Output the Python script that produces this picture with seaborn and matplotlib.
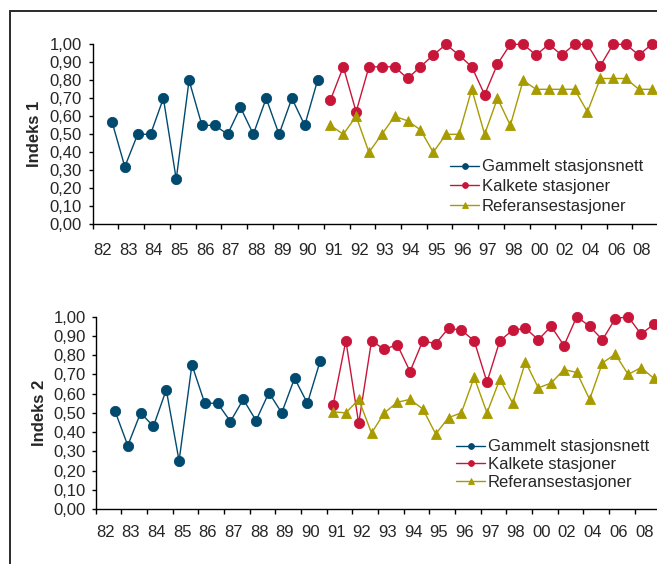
import matplotlib
matplotlib.use("Agg")
import matplotlib.pyplot as plt
import seaborn as sns
import pandas as pd
from matplotlib.patches import Rectangle
from matplotlib.ticker import FuncFormatter, FixedLocator, NullFormatter

# Axis labels: one label per category pair (half-year steps)
year_labels = ["82", "83", "84", "85", "86", "87", "88", "89", "90", "91", "92",
               "93", "94", "95", "96", "97", "98", "00", "02", "04", "06", "08"]

series_names = ["Gammelt stasjonsnett", "Kalkete stasjoner", "Referansestasjoner"]
series_colors = ["#004a70", "#c8153a", "#a89b00"]
series_markers = ["o", "o", "^"]

# First step of each series on the half-year axis
gammelt_start = 1
kalkete_start = 18
referanse_start = 18

# Indeks 1
gammelt_1 = [0.57, 0.32, 0.50, 0.50, 0.70, 0.25, 0.80, 0.55, 0.55, 0.50, 0.65,
             0.50, 0.70, 0.50, 0.70, 0.55, 0.80]
kalkete_1 = [0.69, 0.875, 0.625, 0.875, 0.875, 0.875, 0.81, 0.875, 0.94, 1.00,
             0.94, 0.875, 0.72, 0.89, 1.00, 1.00, 0.94, 1.00, 0.94, 1.00, 1.00,
             0.88, 1.00, 1.00, 0.94, 1.00]
referanse_1 = [0.55, 0.50, 0.60, 0.40, 0.50, 0.60, 0.575, 0.525, 0.40, 0.50, 0.50,
               0.75, 0.50, 0.70, 0.55, 0.80, 0.75, 0.75, 0.75, 0.75, 0.625, 0.81,
               0.81, 0.81, 0.75, 0.75]

# Indeks 2
gammelt_2 = [0.51, 0.33, 0.50, 0.43, 0.62, 0.25, 0.75, 0.55, 0.55, 0.455, 0.57,
             0.46, 0.605, 0.50, 0.68, 0.55, 0.77]
kalkete_2 = [0.54, 0.875, 0.445, 0.875, 0.83, 0.855, 0.715, 0.875, 0.86, 0.94,
             0.93, 0.875, 0.66, 0.875, 0.93, 0.94, 0.88, 0.95, 0.85, 1.00, 0.95,
             0.88, 0.99, 1.00, 0.91, 0.96]
referanse_2 = [0.505, 0.50, 0.57, 0.395, 0.50, 0.555, 0.57, 0.52, 0.39, 0.475,
               0.50, 0.685, 0.50, 0.675, 0.55, 0.765, 0.63, 0.655, 0.725, 0.71,
               0.57, 0.76, 0.805, 0.70, 0.735, 0.68]

N_STEPS = 44


def long_frame(values, start, name):
    return pd.DataFrame({"step": list(range(start, start + len(values))),
                         "value": values, "series": name})


panels = [
    ("Indeks 1", [gammelt_1, kalkete_1, referanse_1]),
    ("Indeks 2", [gammelt_2, kalkete_2, referanse_2]),
]
starts = [gammelt_start, kalkete_start, referanse_start]

# Axes geometry in pixels: (left, top of 1.00, bottom at 0.00, pixel width)
W, H = 657, 564
geom = [(92.7, 44.3, 224.3, 565.4), (95.7, 316.7, 509.0, 564.5)]
ylabel_x = [34.2, 39.6]
xlab_pad = [13.3, 11.4]
ylab_pad = [4.8, 3.9]
legend_pos = [(450, 159.5, 0.27), (456, 439.5, 0.15)]

sns.set_theme(style="white")
plt.rcParams["font.family"] = ["Liberation Sans", "DejaVu Sans"]

fig = plt.figure(figsize=(W / 100, H / 100), dpi=100)
fig.patch.set_facecolor("white")

# Outer chart frame
fig.add_artist(Rectangle((10 / W, -0.2), 1.2, 1.2 - 11 / H,
                         transform=fig.transFigure, fill=False,
                         ec="#2a2a2a", lw=1.4))

for p, (ylab, vals) in enumerate(panels):
    left, ytop, ybot, pw = geom[p]
    ax = fig.add_axes([left / W, 1 - ybot / H, pw / W, (ybot - ytop) / H])
    ax.set_facecolor("none")
    for name, v, s, c, m in zip(series_names, vals, starts, series_colors,
                                series_markers):
        df = long_frame(v, s, name)
        sns.lineplot(data=df, x="step", y="value", ax=ax, color=c, marker=m,
                     markersize=7.4, markeredgewidth=0.6, markeredgecolor=c,
                     linewidth=1.0, label=name, clip_on=False,
                     estimator=None, sort=True)

    ax.set_xlim(-0.5, N_STEPS - 0.5)
    ax.set_ylim(0, 1)
    for side in ["top", "right"]:
        ax.spines[side].set_visible(False)
    for side in ["left", "bottom"]:
        ax.spines[side].set_color("black")
        ax.spines[side].set_linewidth(1.0)

    ax.set_yticks([i / 10 for i in range(11)])
    ax.yaxis.set_major_formatter(FuncFormatter(lambda v, _: f"{v:.2f}".replace(".", ",")))
    ax.tick_params(axis="y", direction="out", length=3.1, width=1.0,
                   color="black", labelsize=12, pad=ylab_pad[p], left=True)

    # tick marks between category pairs, labels under each pair
    ax.xaxis.set_major_locator(FixedLocator([-0.5 + 2 * k for k in range(len(year_labels) + 1)]))
    ax.xaxis.set_major_formatter(NullFormatter())
    ax.xaxis.set_minor_locator(FixedLocator([2 * k + 0.25 for k in range(len(year_labels))]))
    ax.set_xticklabels(year_labels, minor=True)
    ax.tick_params(axis="x", which="major", direction="out", length=3.6,
                   width=1.0, color="black", bottom=True)
    ax.tick_params(axis="x", which="minor", length=0, labelsize=12,
                   pad=xlab_pad[p], bottom=True)

    ax.set_xlabel("")
    ax.set_ylabel(ylab, fontsize=12, fontweight="bold", va="center")
    ax.yaxis.set_label_coords((ylabel_x[p] - left) / pw, 0.5)

    lx, ly, lsp = legend_pos[p]
    handles, labels = ax.get_legend_handles_labels()
    leg = ax.legend(handles, labels, loc="upper left",
                    bbox_to_anchor=(lx / W, 1 - ly / H),
                    bbox_transform=fig.transFigure, frameon=False,
                    fontsize=12, handlelength=1.75, handletextpad=0.15,
                    labelspacing=lsp, borderpad=0, borderaxespad=0)
    for h in leg.legend_handles:
        h.set_markersize(4.2)

fig.savefig("out.png", dpi=100, facecolor="white")
